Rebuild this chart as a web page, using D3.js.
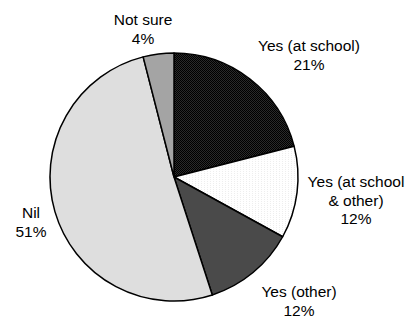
<!DOCTYPE html>
<html><head><meta charset="utf-8">
<script src="https://cdn.jsdelivr.net/npm/d3@7"></script>
<style>html,body{margin:0;padding:0;background:#fff;}svg{display:block;}</style>
</head><body>
<script>
const categories = ["Yes (at school)", "Yes (at school & other)", "Yes (other)", "Nil", "Not sure"];
const values = [21, 12, 12, 51, 4];
const labelLines = [["Yes (at school)"], ["Yes (at school", "& other)"], ["Yes (other)"], ["Nil"], ["Not sure"]];
const fills = ["url(#patDark)", "url(#patLight)", "#4a4a4a", "#dedede", "#a4a4a4"];
const labelPos = [[309, 51], [356, 187], [299, 297], [31, 218], [143, 25]];

const W = 411, H = 320, cx = 174, cy = 177, R = 124, lineH = 18.5;
const svg = d3.select("body").append("svg").attr("width", W).attr("height", H);
const defs = svg.append("defs");
const pd = defs.append("pattern").attr("id", "patDark").attr("patternUnits", "userSpaceOnUse").attr("width", 2).attr("height", 2);
pd.append("rect").attr("width", 2).attr("height", 2).attr("fill", "#000");
pd.append("rect").attr("x", 0).attr("y", 0).attr("width", 1).attr("height", 1).attr("fill", "#2a2a2a");
pd.append("rect").attr("x", 1).attr("y", 1).attr("width", 1).attr("height", 1).attr("fill", "#2a2a2a");
const pl = defs.append("pattern").attr("id", "patLight").attr("patternUnits", "userSpaceOnUse").attr("width", 3).attr("height", 2);
pl.append("rect").attr("width", 3).attr("height", 2).attr("fill", "#fff");
pl.append("rect").attr("x", 0).attr("y", 0).attr("width", 1).attr("height", 1).attr("fill", "#eeeeee");

const pie = d3.pie().sort(null).value(d => d)(values);
const arc = d3.arc().innerRadius(0).outerRadius(R);
const g = svg.append("g").attr("transform", `translate(${cx},${cy})`);
g.selectAll("path").data(pie).join("path")
  .attr("d", arc)
  .attr("fill", (d, i) => fills[i])
  .attr("stroke", "#000").attr("stroke-width", 1.5).attr("stroke-linejoin", "round");

const fmt = d => d + "%";
categories.forEach((c, i) => {
  const lines = labelLines[i].concat([fmt(values[i])]);
  const t = svg.append("text")
    .attr("font-family", "Liberation Sans, Arial, sans-serif")
    .attr("font-size", 15.5).attr("fill", "#000").attr("text-anchor", "middle");
  lines.forEach((l, k) => {
    t.append("tspan").attr("x", labelPos[i][0]).attr("y", labelPos[i][1] + k * lineH).text(l);
  });
});
</script>
</body></html>
